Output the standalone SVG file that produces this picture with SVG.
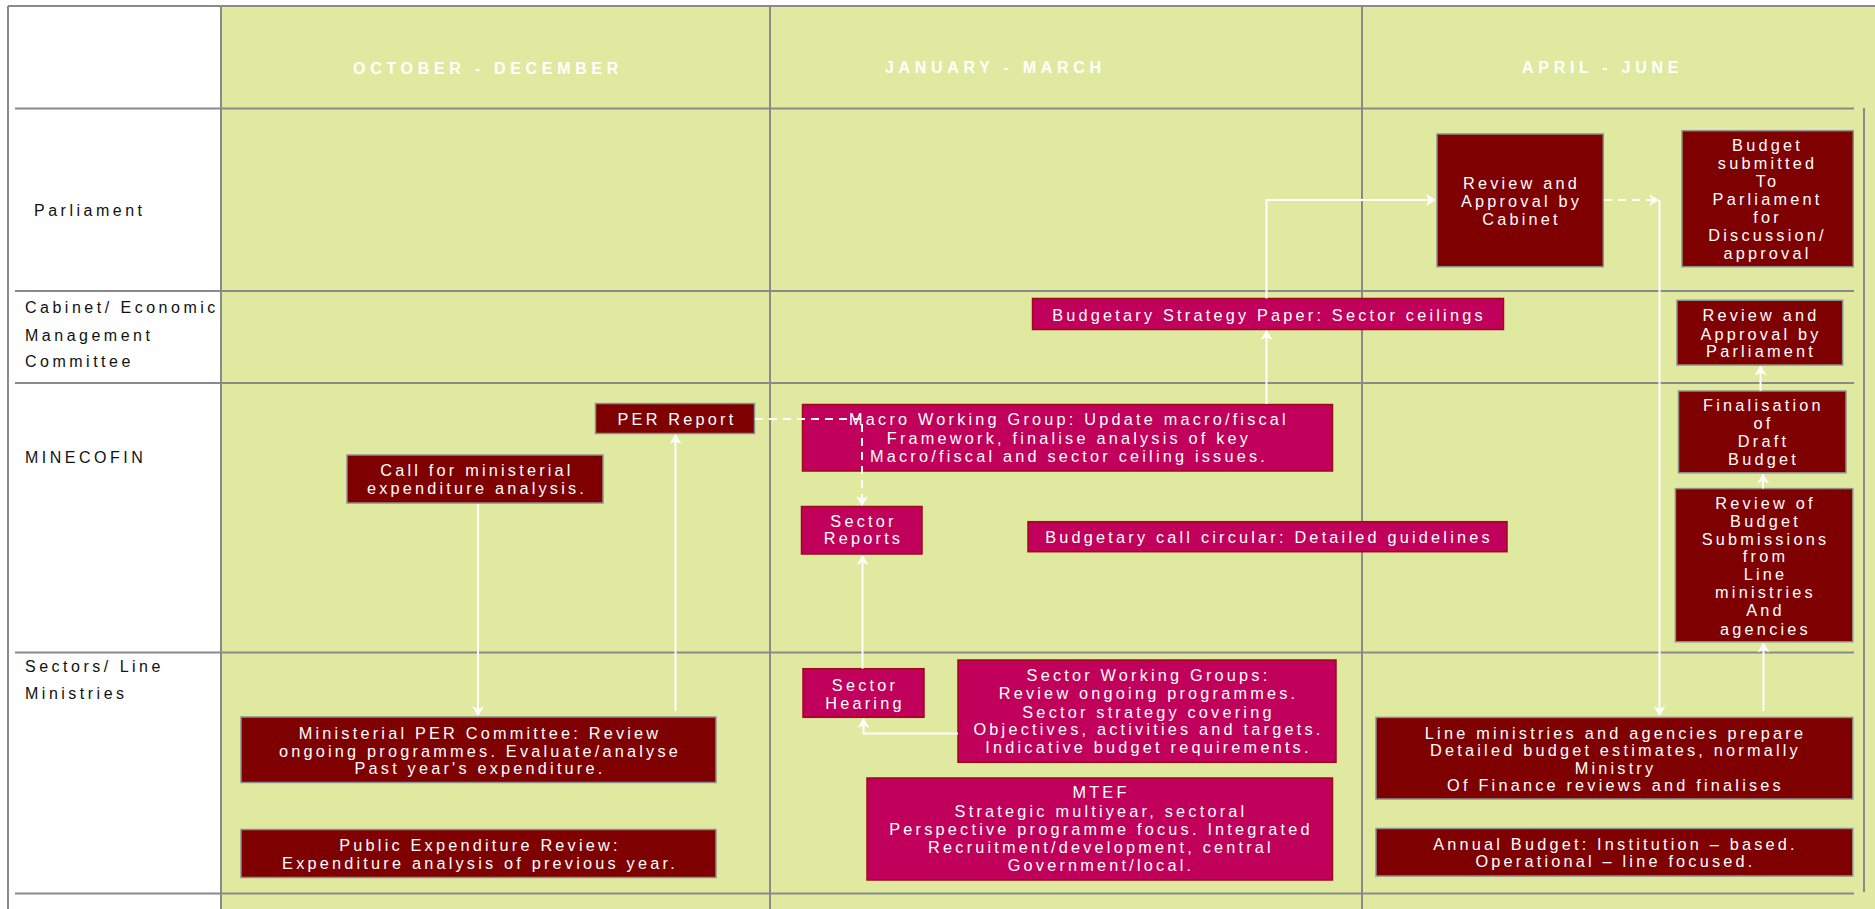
<svg xmlns="http://www.w3.org/2000/svg" width="1875" height="909" viewBox="0 0 1875 909">
<style>
.grid{stroke:#8a8a8a;stroke-width:2;fill:none}
.m{fill:#7f0000;stroke:#8f8f8f;stroke-width:1.5}
.p{fill:#c1005b;stroke:#9c0a1c;stroke-width:1.5}
.t{font-family:"Liberation Sans",Arial,sans-serif;font-size:16.3px;fill:#ffffff;text-anchor:middle;letter-spacing:3.2px}
.lbl{font-family:"Liberation Sans",Arial,sans-serif;font-size:16px;fill:#111111;letter-spacing:3.5px}
.hdr{font-family:"Liberation Sans",Arial,sans-serif;font-size:16px;font-weight:bold;fill:#ffffff;letter-spacing:4.7px}
.c{stroke:#ffffff;stroke-width:2;fill:none}
.d{stroke-dasharray:8 6}
</style>
<defs>
<marker id="ah" markerUnits="userSpaceOnUse" markerWidth="10" markerHeight="12" refX="9" refY="6" orient="auto">
<path d="M0,0 L10,6 L0,12 L3,6 z" fill="#ffffff"/>
</marker>
</defs>
<rect x="0" y="0" width="1875" height="909" fill="#ffffff"/>
<g id="grid">
<rect x="221" y="6" width="1654" height="903" fill="#dfeaa0"/>
<line class="grid" x1="8" y1="6" x2="1875" y2="6"/>
<line class="grid" x1="8" y1="6" x2="8" y2="909"/>
<line class="grid" x1="221" y1="6" x2="221" y2="909"/>
<line class="grid" x1="770" y1="6" x2="770" y2="909"/>
<line class="grid" x1="1362" y1="6" x2="1362" y2="909"/>
<line class="grid" x1="1864" y1="108" x2="1864" y2="892"/>
<line class="grid" x1="15" y1="108.5" x2="1854" y2="108.5"/>
<line class="grid" x1="15" y1="291" x2="1854" y2="291"/>
<line class="grid" x1="15" y1="383" x2="1854" y2="383"/>
<line class="grid" x1="15" y1="652.5" x2="1854" y2="652.5"/>
<line class="grid" x1="15" y1="893.5" x2="1854" y2="893.5"/>
</g>
<g id="headers">
<text class="hdr" x="353" y="74">OCTOBER - DECEMBER</text>
<text class="hdr" x="885" y="73.3">JANUARY - MARCH</text>
<text class="hdr" x="1522" y="72.7">APRIL - JUNE</text>
</g>
<g id="row-labels">
<text class="lbl" x="34" y="215.5">Parliament</text>
<text class="lbl" x="25" y="313">Cabinet/ Economic</text>
<text class="lbl" x="25" y="340.5">Management</text>
<text class="lbl" x="25" y="367">Committee</text>
<text class="lbl" x="25" y="463">MINECOFIN</text>
<text class="lbl" x="25" y="672">Sectors/ Line</text>
<text class="lbl" x="25" y="699">Ministries</text>
</g>
<g id="per-report">
<rect class="m" x="595.5" y="403.5" width="159" height="30"/>
<text class="t" x="677" y="424.5">PER Report</text>
</g>
<g id="call-analysis">
<rect class="m" x="347" y="455" width="256" height="48"/>
<text class="t" x="477" y="476">Call for ministerial</text>
<text class="t" x="477" y="494">expenditure analysis.</text>
</g>
<g id="ministerial-per">
<rect class="m" x="241" y="717" width="475" height="65.5"/>
<text class="t" x="480" y="738.5">Ministerial PER Committee: Review</text>
<text class="t" x="480" y="756.5">ongoing programmes. Evaluate/analyse</text>
<text class="t" x="480" y="773.5">Past year's expenditure.</text>
</g>
<g id="public-expenditure-review">
<rect class="m" x="241" y="829.5" width="475" height="48"/>
<text class="t" x="480" y="850.5">Public Expenditure Review:</text>
<text class="t" x="480" y="868.5">Expenditure analysis of previous year.</text>
</g>
<g id="macro-wg">
<rect class="p" x="802.5" y="404.5" width="530" height="66.5"/>
<text class="t" x="1069" y="425.3">Macro Working Group: Update macro/fiscal</text>
<text class="t" x="1069" y="443.5">Framework, finalise analysis of key</text>
<text class="t" x="1069" y="461.7">Macro/fiscal and sector ceiling issues.</text>
</g>
<g id="sector-reports">
<rect class="p" x="801.5" y="506.5" width="120.5" height="47.5"/>
<text class="t" x="863.5" y="526.5">Sector</text>
<text class="t" x="863.5" y="544">Reports</text>
</g>
<g id="budget-call">
<rect class="p" x="1028" y="521.7" width="479" height="30"/>
<text class="t" x="1269" y="543">Budgetary call circular: Detailed guidelines</text>
</g>
<g id="sector-hearing">
<rect class="p" x="803" y="668.7" width="121" height="48.6"/>
<text class="t" x="865" y="690.5">Sector</text>
<text class="t" x="865" y="708.5">Hearing</text>
</g>
<g id="sector-wg">
<rect class="p" x="958" y="660" width="378" height="102.3"/>
<text class="t" x="1148.5" y="681">Sector Working Groups:</text>
<text class="t" x="1148.5" y="699.3">Review ongoing programmes.</text>
<text class="t" x="1148.5" y="717.5">Sector strategy covering</text>
<text class="t" x="1148.5" y="735">Objectives, activities and targets.</text>
<text class="t" x="1148.5" y="753.2">Indicative budget requirements.</text>
</g>
<g id="mtef">
<rect class="p" x="867" y="778" width="465.5" height="102"/>
<text class="t" x="1101" y="798">MTEF</text>
<text class="t" x="1101" y="816.5">Strategic multiyear, sectoral</text>
<text class="t" x="1101" y="834.5">Perspective programme focus. Integrated</text>
<text class="t" x="1101" y="852.5">Recruitment/development, central</text>
<text class="t" x="1101" y="870.5">Government/local.</text>
</g>
<g id="budget-strategy">
<rect class="p" x="1032.5" y="298.5" width="471" height="31"/>
<text class="t" x="1269" y="320.5">Budgetary Strategy Paper: Sector ceilings</text>
</g>
<g id="cabinet-review">
<rect class="m" x="1437" y="134" width="166.3" height="132.7"/>
<text class="t" x="1521.5" y="189">Review and</text>
<text class="t" x="1521.5" y="207">Approval by</text>
<text class="t" x="1521.5" y="225">Cabinet</text>
</g>
<g id="budget-submitted">
<rect class="m" x="1682" y="130.7" width="171.3" height="136"/>
<text class="t" x="1767.5" y="151">Budget</text>
<text class="t" x="1767.5" y="169">submitted</text>
<text class="t" x="1767.5" y="186.5">To</text>
<text class="t" x="1767.5" y="204.5">Parliament</text>
<text class="t" x="1767.5" y="222.5">for</text>
<text class="t" x="1767.5" y="240.5">Discussion/</text>
<text class="t" x="1767.5" y="258.5">approval</text>
</g>
<g id="parliament-review">
<rect class="m" x="1677" y="300.3" width="165.7" height="64.7"/>
<text class="t" x="1761" y="321">Review and</text>
<text class="t" x="1761" y="339.5">Approval by</text>
<text class="t" x="1761" y="357">Parliament</text>
</g>
<g id="finalisation">
<rect class="m" x="1678.5" y="391" width="167.5" height="81.8"/>
<text class="t" x="1763.5" y="410.8">Finalisation</text>
<text class="t" x="1763.5" y="428.7">of</text>
<text class="t" x="1763.5" y="447">Draft</text>
<text class="t" x="1763.5" y="465">Budget</text>
</g>
<g id="review-submissions">
<rect class="m" x="1675.4" y="488.6" width="177.4" height="153.2"/>
<text class="t" x="1765.5" y="509.3">Review of</text>
<text class="t" x="1765.5" y="526.9">Budget</text>
<text class="t" x="1765.5" y="544.5">Submissions</text>
<text class="t" x="1765.5" y="562.3">from</text>
<text class="t" x="1765.5" y="580.2">Line</text>
<text class="t" x="1765.5" y="598.4">ministries</text>
<text class="t" x="1765.5" y="615.9">And</text>
<text class="t" x="1765.5" y="634.5">agencies</text>
</g>
<g id="line-ministries">
<rect class="m" x="1376" y="717.4" width="476.8" height="81.6"/>
<text class="t" x="1615.5" y="738.5">Line ministries and agencies prepare</text>
<text class="t" x="1615.5" y="756.3">Detailed budget estimates, normally</text>
<text class="t" x="1615.5" y="773.5">Ministry</text>
<text class="t" x="1615.5" y="791">Of Finance reviews and finalises</text>
</g>
<g id="annual-budget">
<rect class="m" x="1376" y="828.5" width="476.8" height="47.5"/>
<text class="t" x="1615.5" y="849.5">Annual Budget: Institution – based.</text>
<text class="t" x="1615.5" y="867.3">Operational – line focused.</text>
</g>
<g id="connectors">
<path class="c" d="M478,504 V715" marker-end="url(#ah)"/>
<path class="c" d="M675.5,711 V435" marker-end="url(#ah)"/>
<path class="c d" d="M755,419 H862 V505" marker-end="url(#ah)"/>
<path class="c" d="M862.5,668.7 V556" marker-end="url(#ah)"/>
<path class="c" d="M958,733.5 H863.5 V719" marker-end="url(#ah)"/>
<path class="c" d="M1266.5,404 V331" marker-end="url(#ah)"/>
<path class="c" d="M1266.5,298.5 V200 H1435" marker-end="url(#ah)"/>
<path class="c d" d="M1604,200 H1658" marker-end="url(#ah)"/>
<path class="c" d="M1659.5,200 V715" marker-end="url(#ah)"/>
<path class="c" d="M1763.5,711 V643.5" marker-end="url(#ah)"/>
<path class="c" d="M1763,488.6 V474.5" marker-end="url(#ah)"/>
<path class="c" d="M1760.5,391 V366.5" marker-end="url(#ah)"/>
</g>
</svg>
